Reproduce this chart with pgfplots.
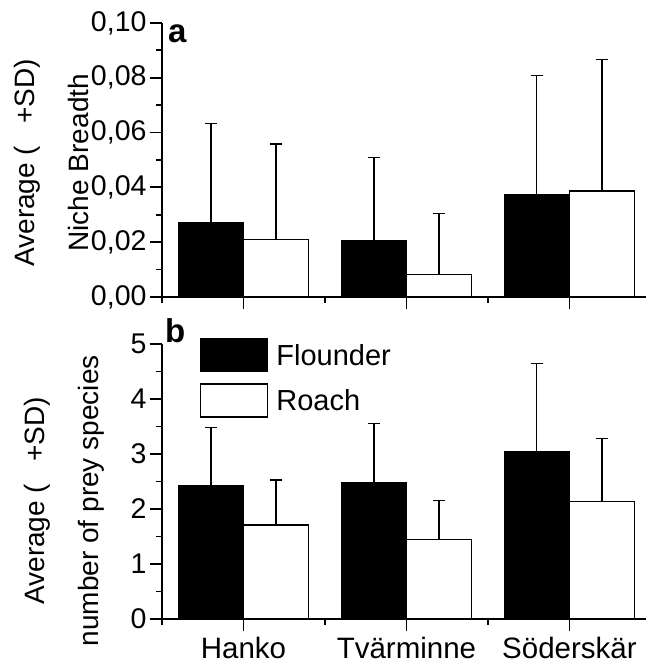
\documentclass[border=0pt]{standalone}
\usepackage{pgfplots}
\pgfplotsset{compat=1.18}
\usepackage{fontspec}
\setmainfont{Liberation Sans}

\pgfplotsset{
  nicheaxis/.style={
    scale only axis,
    width=484pt,
    anchor=south west,
    axis lines=left,
    axis line style={line width=1.8pt, -},
    every tick/.style={line width=1.8pt, black},
    tick align=outside,
    major tick length=12pt,
    minor tick length=6pt,
    xmin=0.5, xmax=3.47,
    xtick={1,2,3},
    minor xtick={0.5,1.5,2.5},
    minor y tick num=1,
    ybar,
    bar width=0.4,
    tick label style={font=\fontsize{28.5}{30}\selectfont},
    ylabel style={font=\fontsize{28}{54}\selectfont, align=center},
    /pgf/number format/assume math mode=true,
    clip=false,
  },
  sderr/.style={
    error bars/y dir=plus, error bars/y explicit,
    error bars/error mark=-,
    error bars/error bar style={line width=1.3pt, black},
    error bars/error mark options={line width=1.3pt, mark size=6pt, black, rotate=90}},
  flounder/.style={fill=black, draw=black, line width=1.2pt, bar shift=-0.2, sderr},
  roach/.style={fill=white, draw=black, line width=1.2pt, bar shift=0.2, sderr},
}

\begin{document}
\begin{tikzpicture}
  \path[use as bounding box] (0,0) rectangle (646pt,667pt);

  % panel a: niche breadth
  \begin{axis}[
      nicheaxis,
      at={(162pt,370pt)},
      height=274pt,
      ymin=0, ymax=0.1,
      ytick={0,0.02,0.04,0.06,0.08,0.1},
      xticklabels={},
      yticklabel style={/pgf/number format/.cd, use comma, fixed, fixed zerofill, precision=2},
      ylabel={Average (\hspace{0.8em}+SD)\\Niche Breadth},
      ylabel style={at={(axis description cs:-0.228,0.49)}, anchor=center},
    ]
    \addplot[flounder] coordinates {
      (1,0.0271) +- (0,0.0363)
      (2,0.0205) +- (0,0.0303)
      (3,0.0372) +- (0,0.0437)
    };
    \addplot[roach] coordinates {
      (1,0.0211) +- (0,0.0347)
      (2,0.0083) +- (0,0.0222)
      (3,0.0387) +- (0,0.0481)
    };
    \node[anchor=base west, inner sep=0pt, font=\bfseries\fontsize{33}{33}\selectfont]
      at (axis description cs:0.012,0.927) {a};
  \end{axis}

  % panel b: number of prey species
  \begin{axis}[
      nicheaxis,
      at={(162pt,48pt)},
      height=275pt,
      ymin=0, ymax=5,
      ytick={0,1,2,3,4,5},
      xticklabels={Hanko,Tvärminne,Söderskär},
      xticklabel style={font=\fontsize{29.5}{30}\selectfont, yshift=-3pt},
      ylabel={Average (\hspace{0.8em}+SD)\\number of prey species},
      ylabel style={at={(axis description cs:-0.2025,0.43)}, anchor=center},
      legend style={at={(axis description cs:0.0785,1.022)}, anchor=north west,
        draw=none, fill=none, inner sep=0pt, row sep=11pt,
        font=\fontsize{29}{30}\selectfont,
        nodes={inner sep=0pt, anchor=west}},
      legend cell align=left,
    ]
    \addplot[legend image code/.code={\draw[fill=black, draw=black, line width=1.2pt] (0pt,-16.5pt) rectangle (67pt,16.5pt); \path (75pt,0pt);}, flounder] coordinates {
      (1,2.42) +- (0,1.06)
      (2,2.48) +- (0,1.07)
      (3,3.05) +- (0,1.59)
    };
    \addplot[legend image code/.code={\draw[fill=white, draw=black, line width=1.2pt] (0pt,-16.5pt) rectangle (67pt,16.5pt); \path (75pt,0pt);}, roach] coordinates {
      (1,1.71) +- (0,0.82)
      (2,1.44) +- (0,0.72)
      (3,2.14) +- (0,1.14)
    };
    \legend{Flounder,Roach}
    \node[anchor=base west, inner sep=0pt, font=\bfseries\fontsize{33}{33}\selectfont]
      at (axis description cs:0.006,1.007) {b};
  \end{axis}
\end{tikzpicture}
\end{document}
